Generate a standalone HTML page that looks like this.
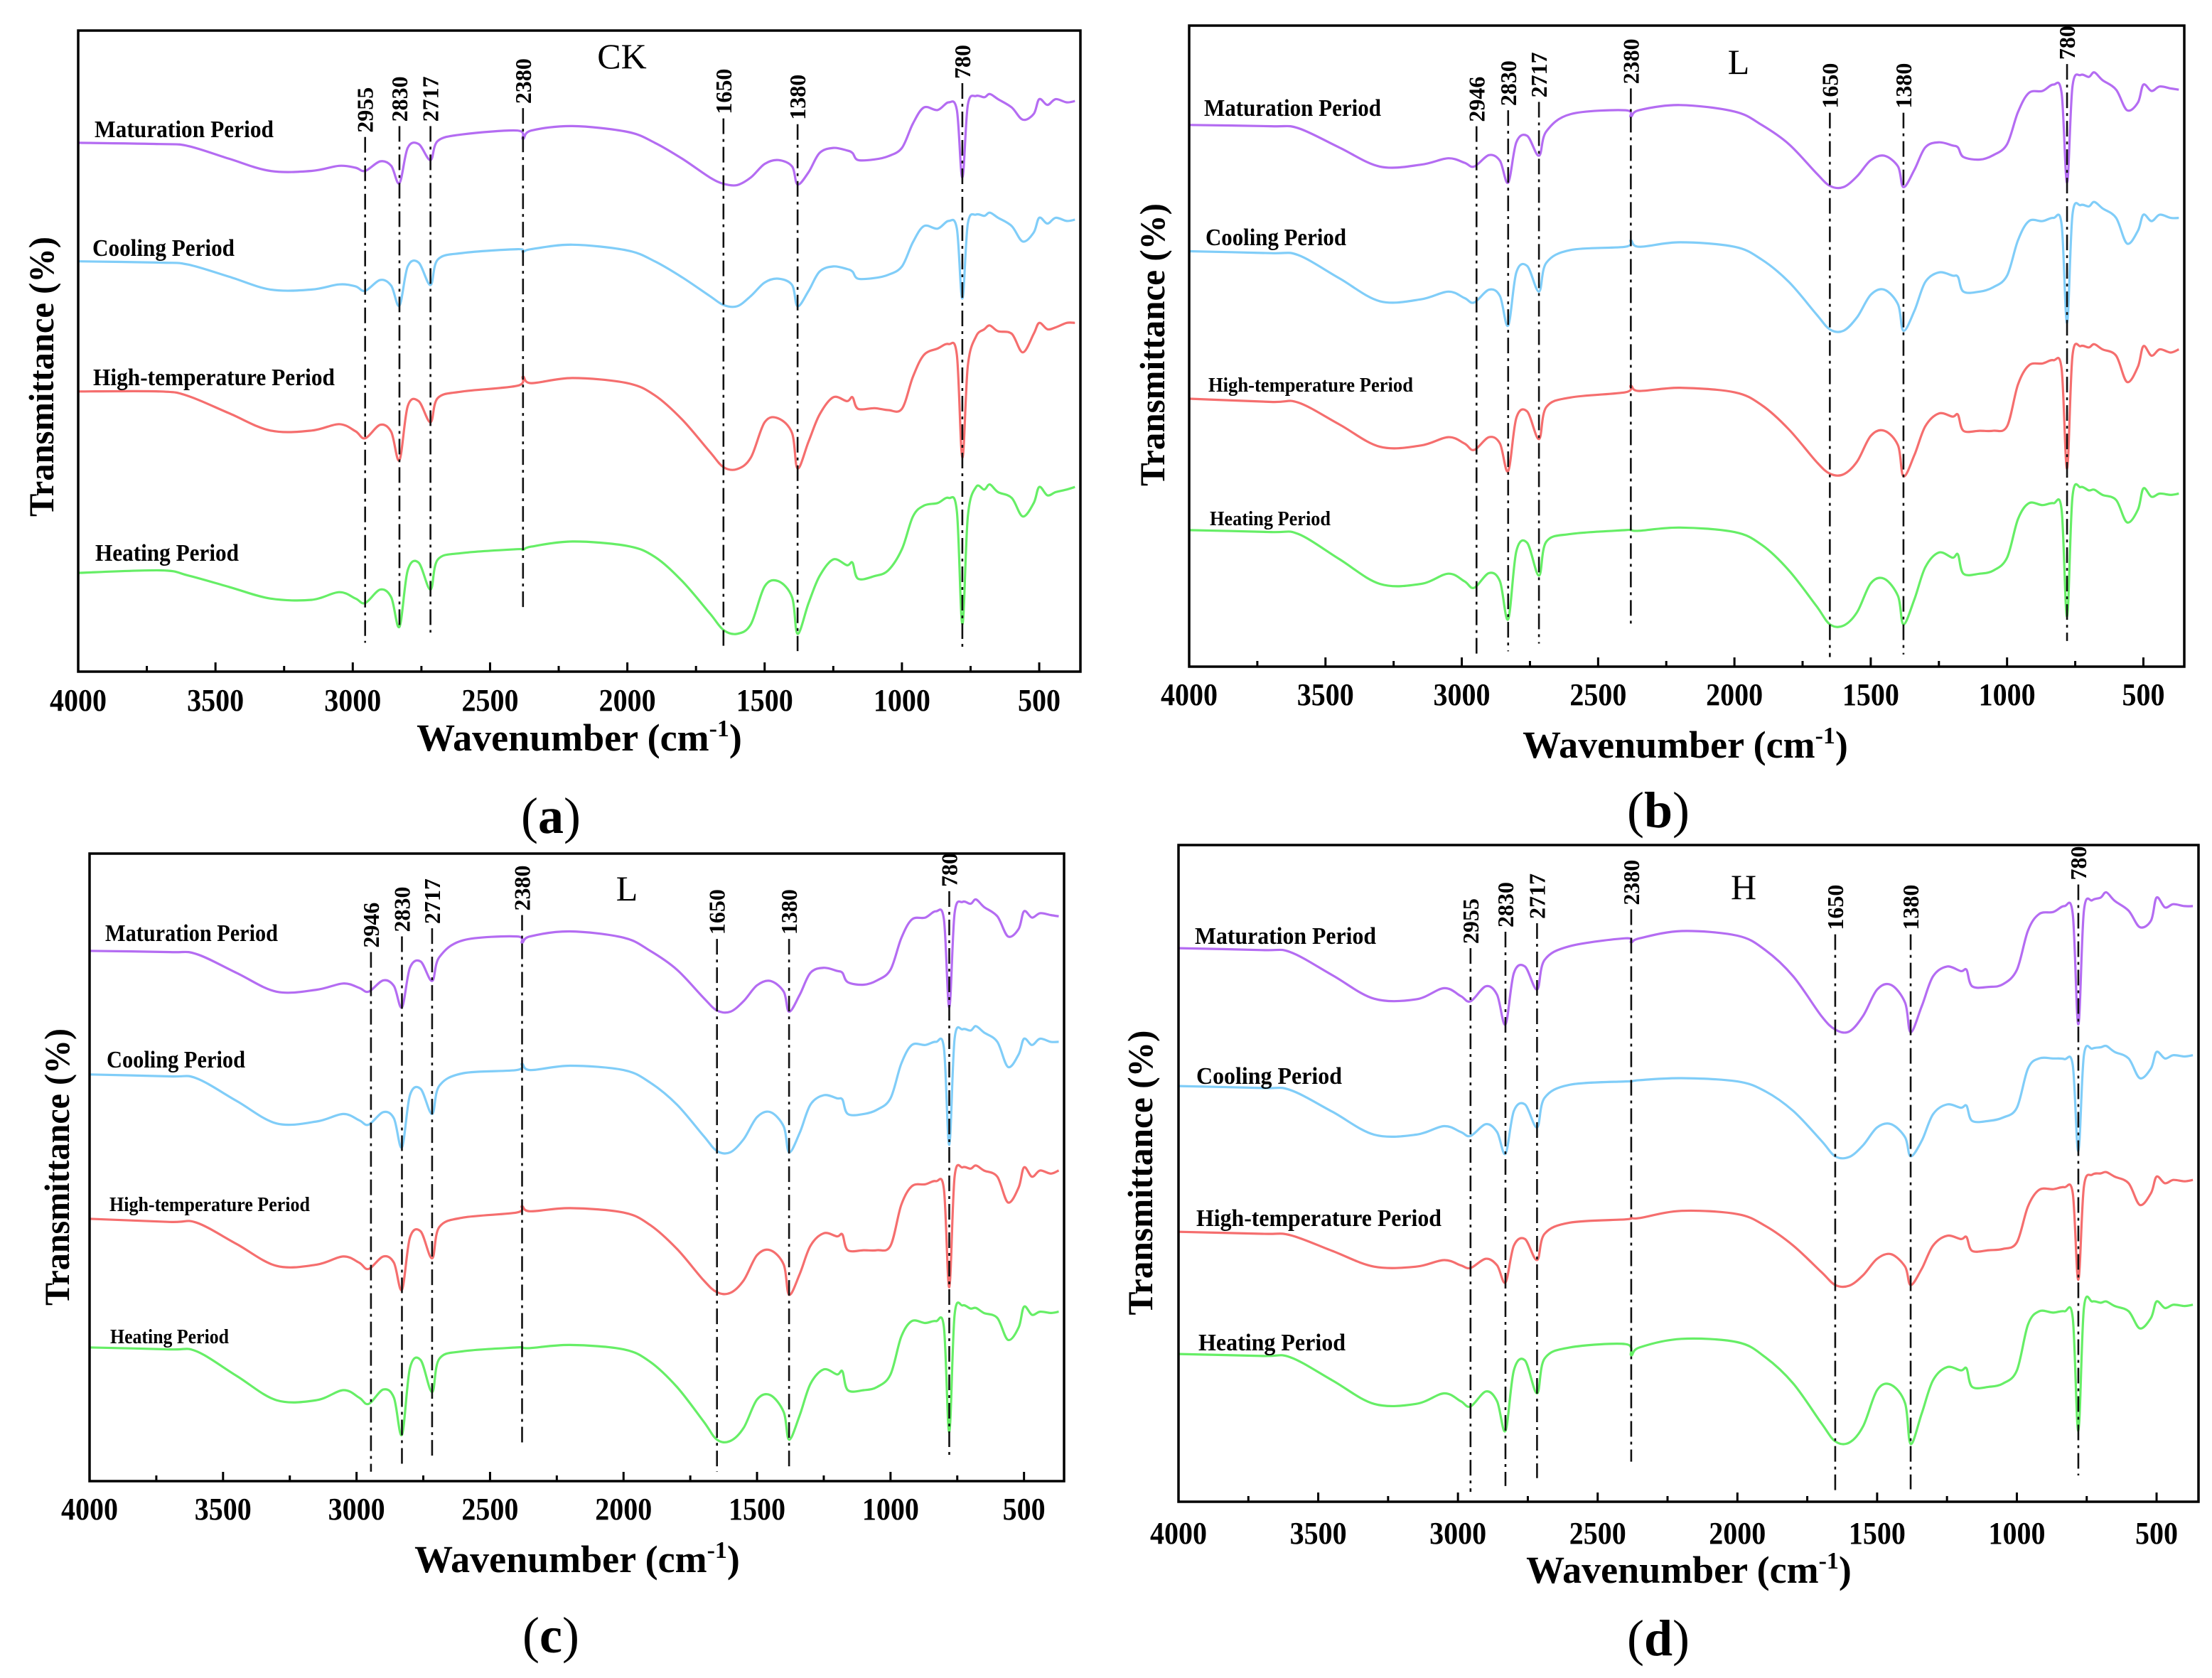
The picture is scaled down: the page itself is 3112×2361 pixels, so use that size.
<!DOCTYPE html>
<html><head><meta charset="utf-8"><style>
html,body{margin:0;padding:0;background:#fff}
svg{display:block}
text{font-family:"Liberation Serif","DejaVu Serif",serif}
</style></head><body>
<svg id="fig" width="3112" height="2361" viewBox="0 0 3112 2361" xmlns="http://www.w3.org/2000/svg"></svg>
<script>
// ---- data ----
const wavenumbers = [4000,3700,3600,3450,3300,3150,3050,2990,2955,2900,2860,2830,2800,2760,2717,2690,2600,2400,2380,2350,2200,2000,1900,1800,1700,1650,1600,1550,1500,1450,1400,1380,1340,1300,1250,1200,1180,1160,1100,1050,1000,960,920,870,830,800,780,760,730,700,680,650,600,560,520,500,470,440,400,370];
const xTicks = [4000,3500,3000,2500,2000,1500,1000,500];
const seriesNames = ["Maturation Period","Cooling Period","High-temperature Period","Heating Period"];
const seriesColors = ["#b46cf2","#80cdf8","#f56e6e","#66ee66"];

const ckMaturation = [82.5,82.3,82.0,80.0,78.1,78.1,78.9,78.6,78.1,79.6,78.9,76.2,81.7,82.3,79.8,82.8,83.8,84.4,83.1,84.4,85.1,84.2,82.5,80.0,77.1,76.1,75.9,77.1,79.2,79.8,78.8,76.0,77.9,80.9,81.7,81.3,80.9,79.8,79.9,80.4,81.7,85.5,88.0,87.6,88.8,87.6,77.1,88.4,89.8,89.6,90.1,89.3,88.0,86.1,87.0,89.3,88.4,89.3,88.8,89.0];
const ckCooling = [64.0,63.8,63.5,61.6,59.6,59.6,60.4,60.1,59.4,61.1,60.2,57.1,63.2,63.8,60.3,64.3,65.3,65.9,65.5,65.9,66.6,65.7,64.0,61.5,58.6,57.2,57.0,58.6,60.7,61.3,60.3,57.0,59.4,62.4,63.2,62.8,62.4,61.3,61.4,61.9,63.2,67.0,69.5,69.1,70.3,69.1,58.2,69.9,71.3,71.1,71.6,70.8,69.5,67.1,68.5,70.8,69.9,70.8,70.3,70.5];
const ckHigh = [43.7,43.7,43.0,40.3,37.6,37.6,38.6,37.5,36.4,38.5,37.4,33.0,41.4,42.2,38.9,42.7,43.7,44.6,46.0,45.0,45.8,45.0,43.1,39.3,34.3,31.9,31.6,33.4,38.9,39.5,37.2,31.7,35.9,40.1,42.8,42.2,42.8,41.0,41.1,40.8,41.0,46.0,49.4,50.4,51.1,49.4,33.4,47.7,52.3,53.4,54.0,53.1,52.7,49.8,52.7,54.4,53.4,53.7,54.4,54.4];
const ckHeating = [15.4,15.8,15.0,13.2,11.4,11.2,12.4,11.4,10.7,12.8,11.6,7.0,15.8,17.0,12.8,17.5,18.5,19.1,19.0,19.5,20.3,19.6,17.9,14.1,9.1,6.5,5.9,7.4,13.3,14.1,11.6,5.9,10.7,14.9,17.5,16.6,17.0,14.5,14.9,15.8,19.1,24.2,25.9,26.3,27.1,25.0,7.4,24.2,28.8,28.4,29.2,28.0,27.1,24.2,26.3,28.8,27.5,28.0,28.4,28.8];

const lMaturation = [84.5,84.3,84.0,81.0,78.0,78.3,79.3,78.6,78.0,79.8,78.9,75.5,81.8,82.8,79.7,83.5,86.2,86.8,85.8,86.8,87.6,86.6,84.5,81.5,77.0,75.0,74.8,76.5,79.0,79.7,78.0,74.8,77.5,81.0,81.8,81.3,81.0,79.5,79.1,79.8,81.5,86.5,89.5,89.8,90.8,89.5,75.5,90.5,92.3,92.0,92.7,91.5,90.0,86.8,88.0,90.8,89.8,90.5,90.2,90.0];
const lCooling = [64.8,64.5,64.2,60.6,57.0,57.3,58.5,57.5,56.8,58.8,57.8,53.2,61.5,62.5,58.5,63.0,65.0,65.5,66.5,65.5,66.2,65.5,63.5,60.0,55.0,52.6,52.4,54.5,58.0,58.8,56.5,52.4,55.5,60.0,61.5,61.0,60.8,58.5,58.5,59.2,61.0,66.5,69.5,69.5,70.0,69.0,53.6,70.5,72.0,71.8,72.5,71.5,70.0,66.0,68.0,70.5,69.5,70.5,70.0,70.0];
const lHigh = [41.8,41.3,41.2,37.8,34.3,34.5,35.8,34.8,33.8,35.8,34.8,30.5,38.8,39.8,35.5,40.5,42.0,42.8,43.8,43.0,43.5,42.8,40.8,37.0,32.0,30.1,30.0,32.0,36.0,36.8,34.5,29.7,33.0,37.5,39.5,39.0,39.3,36.8,36.8,36.8,37.5,44.0,47.0,47.3,47.8,46.5,30.9,48.5,50.0,49.8,50.3,49.5,48.5,44.4,46.8,50.0,48.5,49.5,49.0,49.5];
const lHeating = [21.3,21.0,20.7,16.8,12.9,12.9,14.5,13.3,12.3,14.6,13.3,7.4,18.0,19.3,14.2,19.5,20.7,21.3,21.3,21.2,21.7,21.0,19.0,15.0,9.5,6.6,6.4,8.5,13.0,13.7,11.0,6.6,10.5,15.5,17.8,17.0,17.5,14.5,14.5,15.0,17.0,23.0,25.5,25.2,25.5,24.5,7.8,26.5,28.0,27.5,27.6,26.8,26.0,22.5,24.5,27.8,26.5,27.0,26.8,27.0];

const hMaturation = [84.3,84.0,83.7,80.2,76.6,76.5,78.2,77.0,76.2,78.5,77.2,72.7,80.5,81.5,78.0,82.5,84.6,85.8,85.2,85.8,86.9,86.2,84.0,80.0,74.0,71.9,71.6,74.0,78.0,78.7,76.0,71.5,75.5,80.0,81.5,80.8,81.0,78.5,78.4,78.8,81.0,87.0,89.5,89.8,90.7,89.5,72.7,90.0,91.6,92.0,92.8,91.5,90.0,87.5,88.5,92.0,90.5,91.0,90.7,90.7];
const hCooling = [63.3,63.0,62.7,59.4,55.9,55.9,57.2,56.3,55.7,57.5,56.3,53.0,59.5,60.5,57.0,61.5,63.5,64.0,64.0,64.2,64.5,64.0,62.5,59.5,55.0,52.6,52.5,54.3,57.0,57.5,55.5,52.6,55.0,59.0,60.5,60.0,60.3,58.0,58.0,58.5,60.0,66.0,67.5,67.5,67.4,66.5,53.4,68.0,69.0,69.2,69.4,68.5,67.5,64.5,66.0,68.5,67.5,68.0,67.8,68.0];
const hHigh = [41.1,40.8,40.6,38.2,35.8,35.8,36.8,36.0,35.6,37.0,36.0,33.4,39.0,40.0,36.8,40.8,42.5,43.0,43.2,43.2,44.3,43.8,42.0,39.0,35.0,33.0,32.9,34.5,37.0,37.7,35.8,33.0,35.5,39.0,40.5,40.0,40.3,38.2,38.3,38.5,39.5,45.0,47.5,47.6,47.9,47.0,33.8,48.0,49.8,50.0,50.2,49.5,48.5,45.2,47.0,49.5,48.5,49.0,48.8,49.0];
const hHeating = [22.5,22.2,22.0,18.5,14.9,14.9,16.5,15.3,14.5,16.8,15.3,10.8,20.0,21.5,16.5,21.8,23.5,24.0,22.3,23.5,24.8,24.3,22.0,18.0,12.0,9.2,9.0,11.5,17.0,17.8,15.0,8.8,13.5,18.5,20.5,20.0,20.3,17.5,17.5,18.0,20.0,27.0,29.0,28.8,29.0,28.0,10.8,29.5,30.5,30.3,30.5,29.8,29.0,26.4,28.0,30.5,29.5,30.0,29.8,30.0];

const peaksA = [2955,2830,2717,2380,1650,1380,780];
const peaksL = [2946,2830,2717,2380,1650,1380,780];
const peakTopsA = [83.4,85.1,85.1,87.9,86.3,85.4,91.8];
const peakBotsA = [4.5,6.5,6.1,9.5,4.0,3.2,3.2];
const peakTopsB = [84.3,86.8,88.1,90.2,86.4,86.4,94.0];
const peakBotsB = [1.5,2.4,3.6,6.1,1.5,1.9,4.0];

// ---- layout ----
const panels = [
 {id:"a",title:"CK",x0:110,x1:1520,y0:43,y1:945,series:[ckMaturation,ckCooling,ckHigh,ckHeating],peaks:peaksA,tops:peakTopsA,bots:peakBotsA,
  titlePos:[875,96],tickY:1000,axTitle:[815,1056],yTitle:[58,530,394],sub:[775,1172],
  labels:[[133,193,252,34],[130,360,200,34],[131,542,340,34],[134,789,202,34]]},
 {id:"b",title:"L",x0:1673,x1:3073,y0:36,y1:938,series:[lMaturation,lCooling,lHigh,lHeating],peaks:peaksL,tops:peakTopsB,bots:peakBotsB,
  titlePos:[2446,104],tickY:992,axTitle:[2371,1066],yTitle:[1621,485,398],sub:[2333,1164],
  labels:[[1694,163,249,34],[1696,345,198,34],[1700,551,288,29],[1702,739,170,29]]},
 {id:"c",title:"L",x0:126,x1:1497,y0:1201,y1:2084,series:[lMaturation,lCooling,lHigh,lHeating],peaks:peaksL,tops:peakTopsB,bots:peakBotsB,
  titlePos:[882,1267],tickY:2138,axTitle:[812,2212],yTitle:[80,1642,390],sub:[775,2325],
  labels:[[148,1324,243,34],[150,1502,195,34],[154,1704,282,29],[155,1890,167,29]]},
 {id:"d",title:"H",x0:1658,x1:3093,y0:1189,y1:2113,series:[hMaturation,hCooling,hHigh,hHeating],peaks:peaksA,tops:peakTopsB,bots:peakBotsB,
  titlePos:[2453,1265],tickY:2172,axTitle:[2376,2227],yTitle:[1604,1650,401],sub:[2333,2329],
  labels:[[1681,1328,255,34],[1683,1525,205,34],[1683,1725,345,34],[1686,1900,207,34]]}
];

const NS="http://www.w3.org/2000/svg";
const svg=document.getElementById("fig");
function mk(tag,attrs,parent){const e=document.createElementNS(NS,tag);for(const k in attrs)e.setAttribute(k,attrs[k]);(parent||svg).appendChild(e);return e;}

function smoothPath(pts){
  let d="M"+pts[0][0].toFixed(1)+","+pts[0][1].toFixed(1);
  for(let i=0;i<pts.length-1;i++){
    const p0=pts[Math.max(0,i-1)],p1=pts[i],p2=pts[i+1],p3=pts[Math.min(pts.length-1,i+2)];
    const c1=[p1[0]+(p2[0]-p0[0])/6,p1[1]+(p2[1]-p0[1])/6];
    const c2=[p2[0]-(p3[0]-p1[0])/6,p2[1]-(p3[1]-p1[1])/6];
    d+=" C"+c1[0].toFixed(1)+","+c1[1].toFixed(1)+" "+c2[0].toFixed(1)+","+c2[1].toFixed(1)+" "+p2[0].toFixed(1)+","+p2[1].toFixed(1);
  }
  return d;
}

panels.forEach(p=>{
  const g=mk("g",{});
  
  
  const xs=w=>p.x0+(4000-w)/(4000-350)*(p.x1-p.x0);
  const ys=v=>p.y1-v/100*(p.y1-p.y0);

  p.series.forEach((vals,si)=>{
    const n=Math.min(vals.length,wavenumbers.length);
    const pts=[];
    for(let i=0;i<n;i++)pts.push([xs(wavenumbers[i]),ys(vals[i])]);
    const path=mk("path",{d:smoothPath(pts),fill:"none",stroke:seriesColors[si],"stroke-width":3.2,"stroke-linejoin":"round"},g);
    
    
    const L=p.labels[si];
    const t=mk("text",{x:L[0],y:L[1],"font-size":L[3],"font-weight":"bold",textLength:L[2],lengthAdjust:"spacingAndGlyphs",fill:"#000"},g);
    t.textContent=seriesNames[si];
    
    
  });

  p.peaks.forEach((pk,i)=>{
    const x=xs(pk);
    const ln=mk("line",{x1:x,x2:x,y1:ys(p.tops[i]),y2:ys(p.bots[i]),stroke:"#111","stroke-width":2.6,"stroke-dasharray":"22 7 4 7"},g);
    
    
    const ty=ys(p.tops[i])-6;
    const t=mk("text",{x:x+11,y:ty,"font-size":32,"font-weight":"bold",transform:"rotate(-90 "+(x+11)+" "+ty+")",fill:"#000"},g);
    t.textContent=String(pk);
    
    
  });

  const fr=mk("rect",{x:p.x0,y:p.y0,width:p.x1-p.x0,height:p.y1-p.y0,fill:"none",stroke:"#000","stroke-width":3.5},g);
  
  

  for(let w=4000;w>=500;w-=250){
    const x=xs(w),major=(w%500===0);
    const tk=mk("line",{x1:x,x2:x,y1:p.y1,y2:p.y1-(major?13:8),stroke:"#000","stroke-width":3},g);
    
    
  }
  xTicks.forEach(w=>{
    const t=mk("text",{x:xs(w),y:p.tickY,"font-size":44,"font-weight":"bold","text-anchor":"middle",textLength:w>=1000?80:60,lengthAdjust:"spacingAndGlyphs"},g);
    t.textContent=String(w);
    
    
  });

  const tt=mk("text",{x:p.titlePos[0],y:p.titlePos[1],"font-size":50,"text-anchor":"middle"},g);
  tt.textContent=p.title;
  
  

  const ax=mk("text",{x:p.axTitle[0],y:p.axTitle[1],"font-size":54,"font-weight":"bold","text-anchor":"middle"},g);
  
  
  ax.appendChild(document.createTextNode("Wavenumber (cm"));
  const sup=mk("tspan",{dy:-20,"font-size":34},ax);
  sup.textContent="-1";
  const cl=mk("tspan",{dy:20},ax);
  cl.textContent=")";

  const yx=p.yTitle[0]+17,yy=p.yTitle[1];
  const yt=mk("text",{x:yx,y:yy,"font-size":50,"font-weight":"bold","text-anchor":"middle",textLength:p.yTitle[2],lengthAdjust:"spacingAndGlyphs",transform:"rotate(-90 "+yx+" "+yy+")"},g);
  yt.textContent="Transmittance (%)";
  
  

  const sb=mk("text",{x:p.sub[0],y:p.sub[1],"font-size":72,"text-anchor":"middle"},g);
  
  
  sb.appendChild(document.createTextNode("("));
  const b=mk("tspan",{"font-weight":"bold"},sb); b.textContent=p.id;
  sb.appendChild(document.createTextNode(")"));
});
</script>
</body></html>
